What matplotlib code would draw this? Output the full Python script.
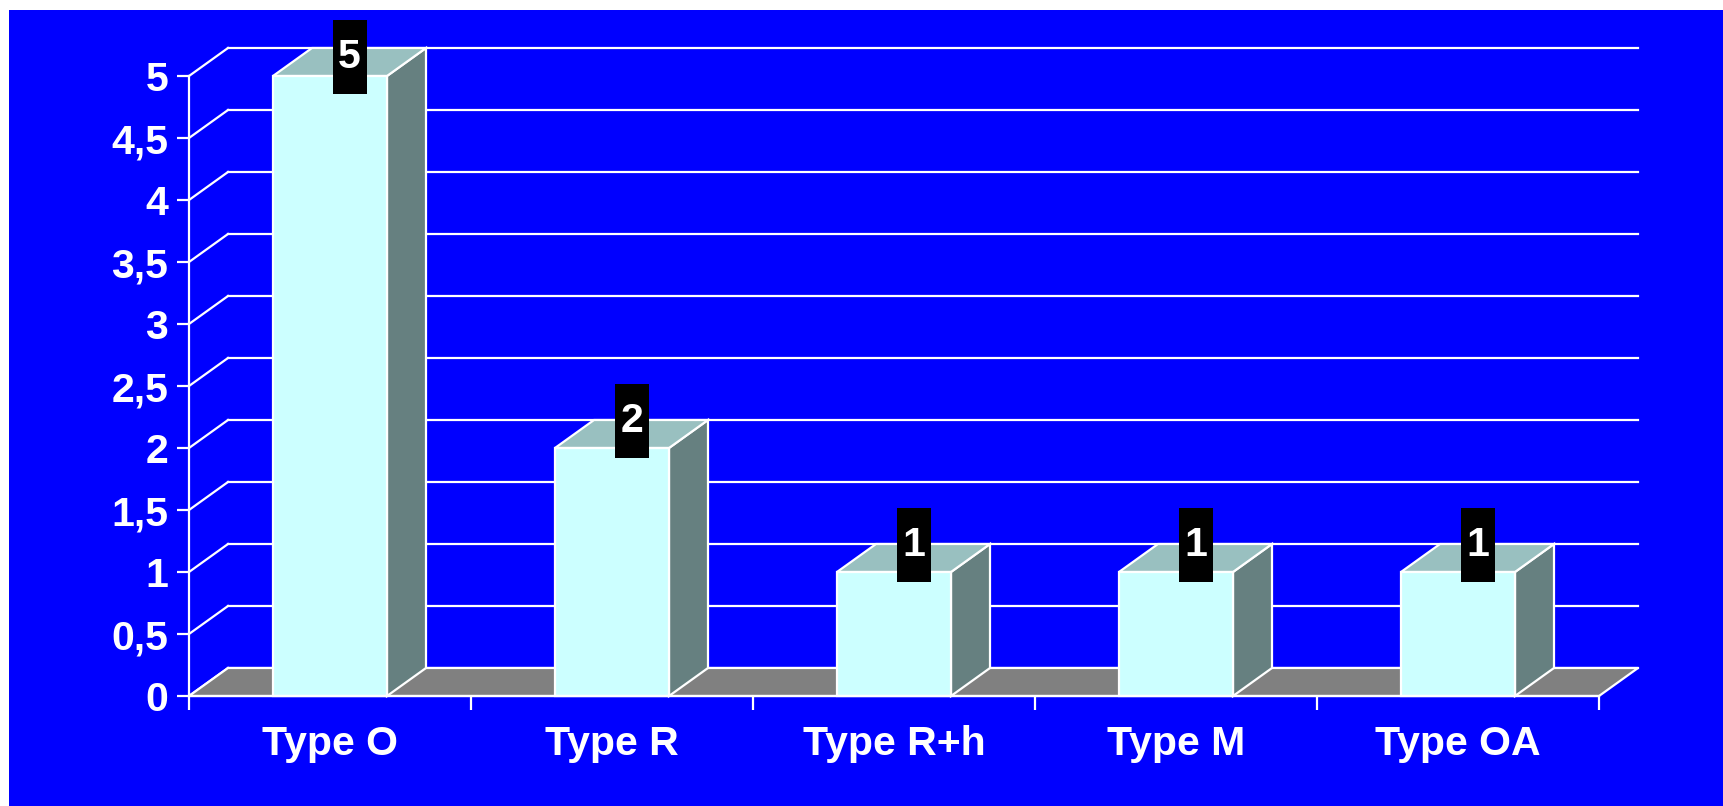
import matplotlib.pyplot as plt
from matplotlib.patches import Rectangle, Polygon

plt.rcParams['font.family'] = ['Liberation Sans', 'DejaVu Sans']
plt.rcParams['font.weight'] = 'bold'

categories = ["Type O", "Type R", "Type R+h", "Type M", "Type OA"]
values = [5, 2, 1, 1, 1]
yticks = [0, 0.5, 1, 1.5, 2, 2.5, 3, 3.5, 4, 4.5, 5]
ytick_labels = ["0", "0,5", "1", "1,5", "2", "2,5", "3", "3,5", "4", "4,5", "5"]

W, H = 1723, 806
fig = plt.figure(figsize=(W / 100, H / 100), dpi=100, facecolor="white")
# blue background (white strip on top and left)
fig.patches.append(Rectangle((9 / W, 0), 1, (H - 10) / H, transform=fig.transFigure,
                             facecolor="#0000FF", edgecolor="none", zorder=-10))

ax = fig.add_axes([189 / W, 110 / H, 1410 / W, 620 / H])
ax.set_facecolor("none")
ax.set_xlim(0, len(categories))
ax.set_ylim(0, 5)

# depth of the 3d effect, in data units
dx = 39 / 282
dy = 28 / 124
bw = 114 / 282

front = "#CCFFFF"
top = "#99C0C0"
side = "#668080"
floor = "#808080"
edge = "white"
lw = 1.6
fs = 29.5

# back wall grid + left wall diagonals
for y in yticks:
    ax.plot([dx, len(categories) + dx], [y + dy, y + dy], color=edge, lw=lw, clip_on=False, zorder=1)
    ax.plot([0, dx], [y, y + dy], color=edge, lw=lw, clip_on=False, zorder=1)

# floor
n = len(categories)
ax.add_patch(Polygon([(0, 0), (n, 0), (n + dx, dy), (dx, dy)], closed=True,
                     facecolor=floor, edgecolor=edge, lw=lw, clip_on=False, zorder=2))

# bars
for i, v in enumerate(values):
    x0 = i + 0.5 - bw / 2
    x1 = x0 + bw
    ax.add_patch(Polygon([(x1, 0), (x1 + dx, dy), (x1 + dx, v + dy), (x1, v)], closed=True,
                         facecolor=side, edgecolor=edge, lw=lw, clip_on=False, zorder=3))
    ax.add_patch(Polygon([(x0, v), (x1, v), (x1 + dx, v + dy), (x0 + dx, v + dy)], closed=True,
                         facecolor=top, edgecolor=edge, lw=lw, clip_on=False, zorder=3))
    ax.add_patch(Rectangle((x0, 0), bw, v, facecolor=front, edgecolor=edge, lw=lw,
                           clip_on=False, zorder=4))
    # value label in black box
    cx = i + 0.5 + dx / 2
    cy = min(v + 0.214, 5.153)
    bx, by = 34 / 282, 74 / 124
    ax.add_patch(Rectangle((cx - bx / 2, cy - by / 2), bx, by, facecolor="black",
                           edgecolor="none", clip_on=False, zorder=5))
    ax.text(cx, cy, str(v), color="white", fontsize=fs, fontweight="bold",
            ha="center", va="center", zorder=6)

for s in ["top", "right", "bottom"]:
    ax.spines[s].set_visible(False)
ax.spines["left"].set_color(edge)
ax.spines["left"].set_linewidth(lw)
ax.spines["left"].set_zorder(3)
ax.axhline(0, color=edge, lw=lw, zorder=5, clip_on=False)

ax.set_yticks(yticks)
ax.set_yticklabels(ytick_labels)
ax.tick_params(axis="y", colors="white", labelsize=fs, length=9, width=lw, pad=6)
ax.set_xticks(range(n + 1))
ax.set_xticklabels([""] * (n + 1))
ax.tick_params(axis="x", which="major", colors="white", length=10, width=lw)
ax.set_xticks([i + 0.5 for i in range(n)], minor=True)
ax.set_xticklabels(categories, minor=True)
ax.tick_params(axis="x", which="minor", colors="white", labelsize=fs, length=0, pad=21)

fig.savefig("out.png", dpi=100, facecolor="white")
